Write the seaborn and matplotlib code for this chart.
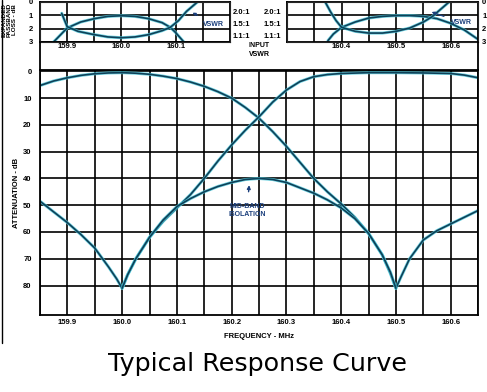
import matplotlib
matplotlib.use("Agg")
import matplotlib.pyplot as plt
from matplotlib.lines import Line2D
import pandas as pd
import seaborn as sns

# ---- main chart: attenuation (dB) vs frequency (MHz) ----
freq_a = [159.85, 159.875, 159.9, 159.925, 159.95, 159.975, 160.0, 160.025, 160.05, 160.075,
          160.1, 160.125, 160.15, 160.175, 160.2, 160.225, 160.25, 160.275, 160.3, 160.325,
          160.35, 160.375, 160.4, 160.425, 160.45, 160.475, 160.49, 160.5, 160.51, 160.525,
          160.55, 160.575, 160.6, 160.625, 160.65]
atten_a = [5.3, 3.6, 2.4, 1.5, 0.9, 0.6, 0.5, 0.7, 1.1, 1.8,
           2.7, 4.0, 5.6, 7.6, 10.0, 13.5, 17.5, 22.5, 28.0, 34.0,
           40.0, 45.0, 49.5, 54.5, 60.5, 68.5, 75.5, 81.0, 76.5, 70.0,
           63.0, 59.5, 57.0, 54.5, 52.0]

freq_b = [159.85, 159.875, 159.9, 159.925, 159.95, 159.975, 159.99, 160.0, 160.01, 160.025,
          160.05, 160.075, 160.1, 160.125, 160.15, 160.175, 160.2, 160.225, 160.25, 160.275,
          160.3, 160.325, 160.35, 160.375, 160.4, 160.45, 160.5, 160.55, 160.6, 160.625, 160.65]
atten_b = [48.5, 52.5, 56.5, 61.0, 66.0, 73.0, 77.5, 81.0, 76.0, 70.0,
           62.0, 56.0, 51.0, 46.0, 40.0, 33.5, 27.5, 22.0, 17.0, 11.5,
           7.0, 3.8, 2.0, 1.2, 0.8, 0.5, 0.5, 0.6, 0.8, 1.4, 2.4]

freq_iso = [160.0, 160.01, 160.025, 160.05, 160.075, 160.1, 160.125, 160.15, 160.175, 160.2,
            160.225, 160.25, 160.275, 160.3, 160.325, 160.35, 160.375, 160.4, 160.425, 160.45,
            160.475, 160.49, 160.5]
atten_iso = [81.0, 76.0, 70.0, 62.0, 55.5, 50.5, 47.5, 45.0, 43.0, 41.5,
             40.4, 40.0, 40.4, 41.5, 43.5, 45.5, 48.0, 51.0, 55.0, 60.5,
             68.5, 75.0, 81.0]

main_xticks = [159.85, 159.9, 159.95, 160.0, 160.05, 160.1, 160.15, 160.2, 160.25, 160.3,
               160.35, 160.4, 160.45, 160.5, 160.55, 160.6, 160.65]
main_xlabels = ["", "159.9", "", "160.0", "", "160.1", "", "160.2", "", "160.3",
                "", "160.4", "", "160.5", "", "160.6", ""]
main_yticks = [0, 10, 20, 30, 40, 50, 60, 70, 80]

# ---- expanded passband panels (loss dB, VSWR) ----
loss1_f = [159.875, 159.9, 159.925, 159.95, 159.975, 160.0, 160.025, 160.05, 160.075, 160.09, 160.1, 160.115]
loss1_v = [3.0, 1.95, 1.5, 1.25, 1.08, 1.03, 1.08, 1.25, 1.55, 1.9, 2.3, 3.0]
vswr1_f = [159.89, 159.9, 159.92, 159.95, 159.975, 160.0, 160.025, 160.05, 160.075, 160.09, 160.105, 160.12, 160.14]
vswr1_v = [0.85, 1.85, 2.2, 2.45, 2.62, 2.68, 2.62, 2.45, 2.15, 1.9, 1.4, 0.7, 0.0]

loss2_f = [160.375, 160.385, 160.4, 160.425, 160.45, 160.475, 160.5, 160.525, 160.55, 160.575, 160.6, 160.625, 160.65]
loss2_v = [2.9, 2.4, 1.9, 1.5, 1.2, 1.08, 1.02, 1.02, 1.08, 1.25, 1.6, 2.1, 2.8]
vswr2_f = [160.37, 160.38, 160.39, 160.4, 160.425, 160.45, 160.475, 160.5, 160.525, 160.55, 160.566, 160.58, 160.597]
vswr2_v = [0.0, 0.75, 1.4, 1.9, 2.2, 2.33, 2.33, 2.2, 1.95, 1.5, 1.1, 0.6, 0.0]

loss_ticks = [0, 1, 2, 3]
vswr_pos = [0.7, 1.6, 2.55]
vswr_labels = ["2.0:1", "1.5:1", "1.1:1"]

W, H = 487, 392
DARK = "#0e4058"
GLOW = "#4cc8da"
NOTE = "#1b3f7c"
tick_font = dict(family="Liberation Sans", fontsize=5.5, fontweight="bold")

sns.set_style("white")
plt.rcParams["font.family"] = ["Liberation Sans", "DejaVu Sans"]
plt.rcParams["text.color"] = "black"
plt.rcParams["axes.labelcolor"] = "black"
plt.rcParams["xtick.color"] = "black"
plt.rcParams["ytick.color"] = "black"

fig = plt.figure(figsize=(W / 100, H / 100), dpi=100)


def box(x0, y0, x1, y1):
    return [x0 / W, 1 - y1 / H, (x1 - x0) / W, (y1 - y0) / H]


def curve(ax, f, v):
    sns.lineplot(x=f, y=v, ax=ax, color=GLOW, lw=2.2, estimator=None, sort=False, alpha=0.8)
    sns.lineplot(x=f, y=v, ax=ax, color=DARK, lw=1.2, estimator=None, sort=False)


def frame(ax):
    for s in ax.spines.values():
        s.set_color("black")
        s.set_linewidth(1.3)
    ax.tick_params(length=0)


# main axes
ax = fig.add_axes(box(40, 70, 478, 315))
curve(ax, freq_a, atten_a)
curve(ax, freq_b, atten_b)
curve(ax, freq_iso, atten_iso)
ax.set_xlim(159.85, 160.65)
ax.set_ylim(91, -0.5)
ax.set_xticks(main_xticks)
ax.set_xticklabels(main_xlabels, **tick_font)
ax.set_yticks(main_yticks)
ax.set_yticklabels([str(t) for t in main_yticks], **tick_font)
ax.grid(True, color="black", lw=1.2)
frame(ax)
ax.tick_params(axis="x", pad=3)
ax.tick_params(axis="y", pad=6)
ax.set_xlabel("FREQUENCY - MHz", fontsize=5.5, fontweight="bold", labelpad=5)
ax.set_ylabel("ATTENUATION - dB", fontsize=5.5, fontweight="bold", labelpad=2)
ax.annotate("MID-BAND\nISOLATION", xy=(160.232, 42.5), xytext=(160.228, 52),
            ha="center", va="center", fontsize=5, fontweight="bold", color=NOTE,
            linespacing=1.1,
            arrowprops=dict(arrowstyle="-|>", color=NOTE, lw=1.0, mutation_scale=5,
                            shrinkA=6, shrinkB=0))

# expanded passband, left (loss on the left, VSWR on the right)
ax1 = fig.add_axes(box(40, 2, 230, 42))
t1 = ax1.twinx()
curve(ax1, loss1_f, loss1_v)
curve(ax1, vswr1_f, vswr1_v)
ax1.set_xlim(159.85, 160.2)
ax1.set_ylim(3, 0)
ax1.set_xticks([159.9, 159.95, 160.0, 160.05, 160.1, 160.15])
ax1.set_xticklabels(["159.9", "", "160.0", "", "160.1", ""], **tick_font)
ax1.yaxis.tick_left()
ax1.set_yticks(loss_ticks)
ax1.set_yticklabels([str(t) for t in loss_ticks], **tick_font)
ax1.grid(True, color="black", lw=1.2)
frame(ax1)
ax1.tick_params(axis="x", pad=1)
ax1.tick_params(axis="y", pad=5)
t1.yaxis.tick_right()
t1.set_ylim(3, 0)
t1.set_yticks(vswr_pos)
t1.set_yticklabels(vswr_labels, **tick_font)
t1.tick_params(length=0, pad=2)
t1.grid(False)
ax1.annotate("VSWR", xy=(160.131, 0.8), xytext=(160.17, 1.65), ha="center", va="center",
             fontsize=5, fontweight="bold", color=NOTE,
             arrowprops=dict(arrowstyle="-|>", color=NOTE, lw=0.9, mutation_scale=4,
                             shrinkA=3, shrinkB=0))

# expanded passband, right (VSWR on the left, loss on the right)
ax2 = fig.add_axes(box(287, 2, 478, 42))
t2 = ax2.twinx()
curve(ax2, loss2_f, loss2_v)
curve(ax2, vswr2_f, vswr2_v)
ax2.set_xlim(160.3, 160.65)
ax2.set_ylim(3, 0)
ax2.set_xticks([160.35, 160.4, 160.45, 160.5, 160.55, 160.6])
ax2.set_xticklabels(["", "160.4", "", "160.5", "", "160.6"], **tick_font)
ax2.set_yticks(vswr_pos)
ax2.set_yticklabels(vswr_labels, **tick_font)
ax2.yaxis.tick_left()
ax2.grid(False)
ax2.xaxis.grid(True, color="black", lw=1.2)
for yg in (1, 2):
    ax2.axhline(yg, color="black", lw=1.2, zorder=0.5)
frame(ax2)
ax2.tick_params(axis="x", pad=1)
ax2.tick_params(axis="y", pad=4)
t2.yaxis.tick_right()
t2.set_ylim(3, 0)
t2.set_yticks(loss_ticks)
t2.set_yticklabels([str(t) for t in loss_ticks], **tick_font)
t2.tick_params(length=0, pad=3)
t2.grid(False)
ax2.annotate("VSWR", xy=(160.565, 0.75), xytext=(160.62, 1.55), ha="center", va="center",
             fontsize=5, fontweight="bold", color=NOTE,
             arrowprops=dict(arrowstyle="-|>", color=NOTE, lw=0.9, mutation_scale=4,
                             shrinkA=3, shrinkB=0))

# labels between and beside the small panels
fig.text(259 / W, 1 - 50 / H, "INPUT\nVSWR", ha="center", va="center",
         fontsize=5, fontweight="bold", linespacing=1.3)
fig.text(9 / W, 1 - 20 / H, "EXPANDED\nPASSBAND\nLOSS - dB", ha="center", va="center",
         rotation=90, fontsize=4.5, fontweight="bold", linespacing=1.0)

# frame lines joining the panels, and the scan border
for xp in (40, 478):
    fig.add_artist(Line2D([xp / W, xp / W], [1 - 42 / H, 1 - 70 / H], color="black", lw=1.3))
fig.add_artist(Line2D([1.5 / W, 1.5 / W], [1.0, 1 - 343 / H], color="black", lw=1.0))

fig.text(257 / W, 1 - 364 / H, "Typical Response Curve", ha="center", va="center",
         fontsize=18.3, color="black", family=["DejaVu Sans"])

fig.savefig("out.png", dpi=100)
